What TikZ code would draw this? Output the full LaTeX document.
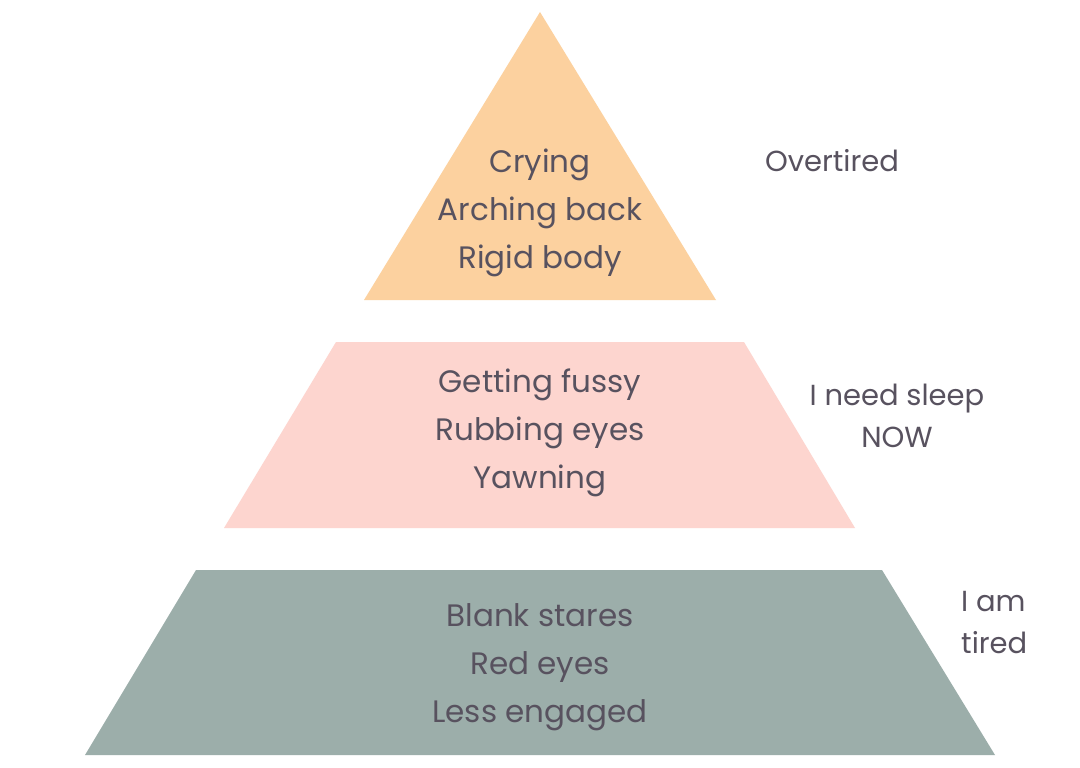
\documentclass[tikz,border=0pt]{standalone}
\usepackage{fontspec}
\setmainfont{Poppins}
\definecolor{peach}{HTML}{FCD19F}
\definecolor{blush}{HTML}{FDD5CF}
\definecolor{sage}{HTML}{9CAEAA}
\definecolor{ink}{HTML}{58525F}
\tikzset{
  inner/.style={text=ink, align=center, font=\fontsize{31}{48}\selectfont, inner sep=0pt},
  side/.style={text=ink, font=\fontsize{29}{42}\selectfont, inner sep=0pt}
}
\begin{document}
\begin{tikzpicture}[x=1pt,y=-1pt]
\useasboundingbox[fill=white] (0,0) rectangle (1080,768);
% layers
\fill[peach] (540,12) -- (716,300) -- (364,300) -- cycle;
\fill[blush] (336,342) -- (744,342) -- (855,528) -- (224,528) -- cycle;
\fill[sage] (196,570) -- (882,570) -- (995,755) -- (85,755) -- cycle;
% texts
\node[inner] (top) at (540,213) {Crying\\Arching back\\Rigid body};
\node[inner] (mid) at (540,433) {Getting fussy\\Rubbing eyes\\Yawning};
\node[inner] (bot) at (540,667) {Blank stares\\Red eyes\\Less engaged};
\node[side] (l1) at (832,161) {Overtired};
\node[side, align=center] (l2) at (897,416) {I need sleep\\NOW};
\node[side, align=left, anchor=west] (l3) at (961,623) {I am\\tired};
\end{tikzpicture}
\end{document}
